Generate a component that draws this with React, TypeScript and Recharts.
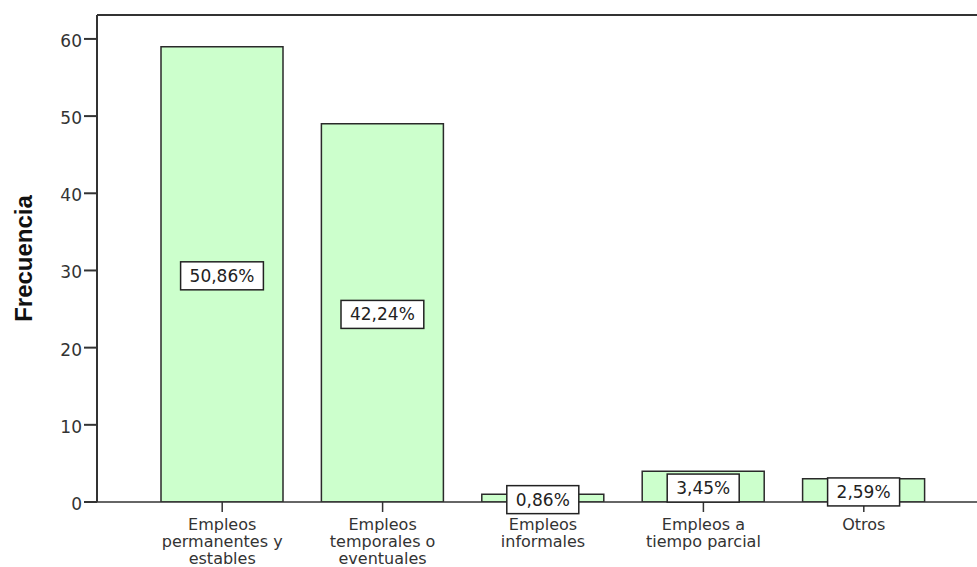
import React from 'react'
import { BarChart, Bar, XAxis, YAxis, LabelList, ReferenceLine } from 'recharts'

// categories split into the lines shown under each bar
const categories = [
    ['Empleos', 'permanentes y', 'estables'],
    ['Empleos', 'temporales o', 'eventuales'],
    ['Empleos', 'informales'],
    ['Empleos a', 'tiempo parcial'],
    ['Otros'],
]
const counts = [59, 49, 1, 4, 3]
const percents = ['50,86%', '42,24%', '0,86%', '3,45%', '2,59%']
const yTicks = [0, 10, 20, 30, 40, 50, 60]

const data = categories.map((lines, i) => ({
    name: lines.join(' '),
    lines,
    count: counts[i],
    pct: percents[i],
}))

const FONT = '"DejaVu Sans", Arial, sans-serif'
const INK = '#333333'

// rough text width for the label boxes (DejaVu Sans, 17px)
function textWidth(s: string) {
    let w = 0
    for (const ch of s) {
        if (ch === ',') w += 5.4
        else if (ch === '%') w += 16.2
        else w += 10.8
    }
    return w
}

function XTick(props: any) {
    const { x, y, payload, index } = props
    const lines = data[index]?.lines ?? [payload.value]
    return (
        <text x={x} y={y} textAnchor="middle" fontFamily={FONT} fontSize={16} fill={INK}>
            {lines.map((l: string, i: number) => (
                <tspan key={i} x={x} y={y + 16 + i * 17}>{l}</tspan>
            ))}
        </text>
    )
}

function YTick(props: any) {
    const { x, y, payload } = props
    return (
        <text x={x} y={y + 8} textAnchor="end" fontFamily={FONT} fontSize={17} fill={INK}>
            {payload.value}
        </text>
    )
}

function PctLabel(props: any) {
    const { x, y, width, height, value } = props
    const cx = x + width / 2
    const cy = y + height / 2 + 1.5
    const bw = textWidth(String(value)) + 18
    return (
        <g>
            <rect x={cx - bw / 2} y={cy - 14} width={bw} height={28} fill="#ffffff" stroke="#222" strokeWidth={1.5} />
            <text x={cx} y={cy + 6} textAnchor="middle" fontFamily={FONT} fontSize={17} fill="#222">
                {value}
            </text>
        </g>
    )
}

export default function App() {
    return (
        <div style={{ position: 'absolute', left: 0, top: 0, background: '#fff' }}>
            <BarChart width={977} height={567} data={data} margin={{ top: 15, right: 0, left: 0, bottom: 0 }}>
                <XAxis
                    dataKey="name"
                    height={65}
                    padding={{ left: 45, right: 33 }}
                    stroke={INK}
                    strokeWidth={1.5}
                    tickSize={10}
                    tickMargin={2}
                    interval={0}
                    tick={<XTick />}
                />
                <YAxis
                    width={97}
                    domain={[0, 63.1]}
                    ticks={yTicks}
                    allowDataOverflow
                    stroke={INK}
                    strokeWidth={2}
                    tickSize={13}
                    tickMargin={2}
                    tick={<YTick />}
                    label={{
                        value: 'Frecuencia',
                        angle: -90,
                        position: 'insideLeft',
                        dx: 18,
                        style: { fontFamily: 'Arial, "Liberation Sans", sans-serif', fontWeight: 'bold', fontSize: 24, fill: '#111', textAnchor: 'middle' },
                    }}
                />
                <ReferenceLine y={63.1} stroke={INK} strokeWidth={2} ifOverflow="visible" />
                <Bar dataKey="count" barSize={122} fill="#ccffcc" stroke="#2a2a2a" strokeWidth={1.5} isAnimationActive={false}>
                    <LabelList dataKey="pct" content={<PctLabel />} />
                </Bar>
            </BarChart>
        </div>
    )
}
